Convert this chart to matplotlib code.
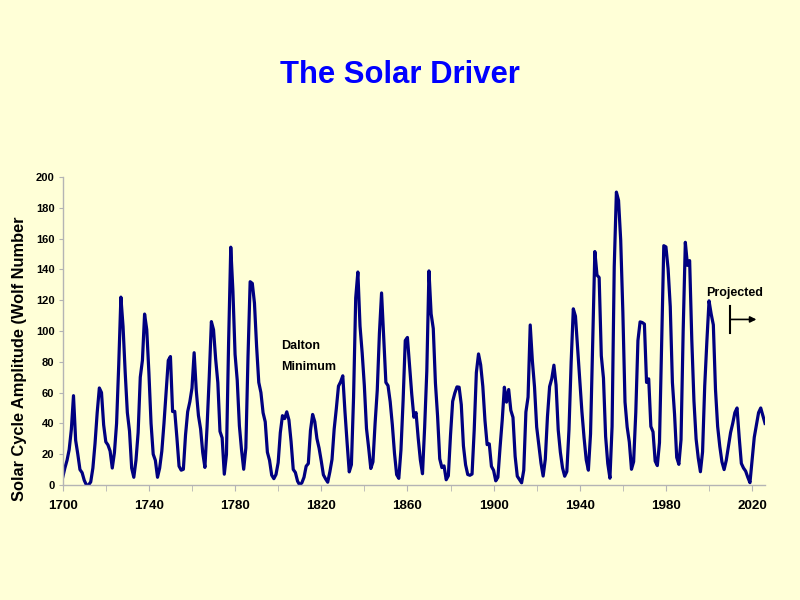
import matplotlib
matplotlib.use("Agg")
import matplotlib.pyplot as plt
import numpy as np

plt.rcParams["font.family"] = ["Liberation Sans", "DejaVu Sans"]
plt.rcParams["font.weight"] = "bold"

# yearly Wolf numbers, 1700 onwards (projection after ~2003)
first_year = 1700
wolf = [
    5, 11, 16, 23, 36, 58, 29, 20, 10, 8,                       # 1700
    3, 0, 0, 2, 11, 27, 47, 63, 60, 39,                         # 1710
    28, 26, 22, 11, 21, 40, 78, 122, 103, 73,                   # 1720
    47, 35, 11, 5, 16, 34, 70, 81, 111, 101,                    # 1730
    73, 40, 20, 16, 5, 11, 22, 40, 60, 80.9,                    # 1740
    83.4, 47.7, 47.8, 30.7, 12.2, 9.6, 10.2, 32.4, 47.6, 54.0,  # 1750
    62.9, 85.9, 61.2, 45.1, 36.4, 20.9, 11.4, 37.8, 69.8, 106.1,
    100.8, 81.6, 66.5, 34.8, 30.6, 7.0, 19.8, 92.5, 154.4, 125.9,
    84.8, 68.1, 38.5, 22.8, 10.2, 24.1, 82.9, 132.0, 130.9, 118.1,
    89.9, 66.6, 60.0, 46.9, 41.0, 21.3, 16.0, 6.4, 4.1, 6.8,    # 1790
    14.5, 34.0, 45.0, 43.1, 47.5, 42.2, 28.1, 10.1, 8.1, 2.5,   # 1800
    0.0, 1.4, 5.0, 12.2, 13.9, 35.4, 45.8, 41.1, 30.1, 23.9,
    15.6, 6.6, 4.0, 1.8, 8.5, 16.6, 36.3, 49.6, 64.2, 67.0,
    70.9, 47.8, 27.5, 8.5, 13.2, 56.9, 121.5, 138.3, 103.2, 85.7,
    64.6, 36.7, 24.2, 10.7, 15.0, 40.1, 61.5, 98.5, 124.7, 96.3,
    66.6, 64.5, 54.1, 39.0, 20.6, 6.7, 4.3, 22.7, 54.8, 93.8,   # 1850
    95.8, 77.2, 59.1, 44.0, 47.0, 30.5, 16.3, 7.3, 37.6, 74.0,
    139.0, 111.2, 101.6, 66.2, 44.7, 17.0, 11.3, 12.4, 3.4, 6.0,
    32.3, 54.3, 59.7, 63.7, 63.5, 52.2, 25.4, 13.1, 6.8, 6.3,
    7.1, 35.6, 73.0, 85.1, 78.0, 64.0, 41.8, 26.2, 26.7, 12.1,
    9.5, 2.7, 5.0, 24.4, 42.0, 63.5, 53.8, 62.0, 48.5, 43.9,    # 1900
    18.6, 5.7, 3.6, 1.4, 9.6, 47.4, 57.1, 103.9, 80.6, 63.6,
    37.6, 26.1, 14.2, 5.8, 16.7, 44.3, 63.9, 69.0, 77.8, 64.9,
    35.7, 21.2, 11.1, 5.7, 8.7, 36.1, 79.7, 114.4, 109.6, 88.8,
    67.8, 47.5, 30.6, 16.3, 9.6, 33.2, 92.6, 151.6, 136.3, 134.7,
    83.9, 69.4, 31.5, 13.9, 4.4, 38.0, 141.7, 190.2, 184.8, 159.0,  # 1950
    112.3, 53.9, 37.6, 27.9, 10.2, 15.1, 47.0, 93.8, 105.9, 105.5,
    104.5, 66.6, 68.9, 38.0, 34.5, 15.5, 12.6, 27.5, 92.5, 155.4,
    154.6, 140.4, 115.9, 66.6, 45.9, 17.9, 13.4, 29.4, 100.2, 157.6,
    142.6, 145.7, 94.3, 54.6, 29.9, 17.5, 8.6, 21.5, 64.3, 93.3,
    119.6, 111.0, 104.0, 62, 38, 25, 15, 10, 16, 25,            # 2000
    34, 40, 47, 50, 31, 14, 11, 9, 5, 1.5,                      # 2010
    16, 31, 39, 47, 50, 45, 40,                                 # 2020
]
years = np.arange(first_year, first_year + len(wolf))

bg = "#FFFFD7"
line_col = "#000080"
axis_col = "#b4b4b4"

fig = plt.figure(figsize=(8, 6), dpi=100, facecolor=bg)
ax = fig.add_axes([0.0784, 0.1917, 0.8779, 0.5133], facecolor=bg)

ax.plot(years, wolf, color=line_col, lw=2.3, solid_joinstyle="round")

ax.set_xlim(1700, 2026)
ax.set_ylim(0, 200)
ax.set_xticks(np.arange(1700, 2021, 40))
ax.set_xticks(np.arange(1720, 2021, 40), minor=True)
ax.set_yticks(np.arange(0, 201, 20))

for s in ["top", "right"]:
    ax.spines[s].set_visible(False)
for s in ["left", "bottom"]:
    ax.spines[s].set_color(axis_col)
    ax.spines[s].set_linewidth(1.0)

ax.tick_params(axis="x", which="both", length=4, color=axis_col, pad=7,
               labelsize=9.6)
ax.tick_params(axis="y", length=3, color=axis_col, pad=3, labelsize=8)
for lbl in ax.get_xticklabels() + ax.get_yticklabels():
    lbl.set_fontweight("bold")

ax.set_ylabel("Solar Cycle Amplitude (Wolf Number", fontsize=11.8,
              fontweight="bold")
ax.yaxis.set_label_coords(-0.051, 0.41)

fig.text(0.5, 1 - 75 / 600, "The Solar Driver", color="#0000FF",
         fontsize=22.3, fontweight="bold", ha="center", va="center")

ax.text(1801.4, 90.5, "Dalton", fontsize=9, fontweight="bold",
        ha="left", va="center")
ax.text(1801.4, 76.8, "Minimum", fontsize=9, fontweight="bold",
        ha="left", va="center")

ax.text(2011.7, 124.5, "Projected", fontsize=9, fontweight="bold",
        ha="center", va="center")
ax.plot([2009.9, 2009.9], [98.5, 116.4], color="black", lw=1.5,
        clip_on=False)
ax.annotate("", xy=(2022.0, 107.5), xytext=(2009.9, 107.5),
            arrowprops=dict(arrowstyle="-|>", color="black", lw=1.2,
                            mutation_scale=9, shrinkA=0, shrinkB=0),
            annotation_clip=False)

fig.savefig("out.png", dpi=100, facecolor=bg)
